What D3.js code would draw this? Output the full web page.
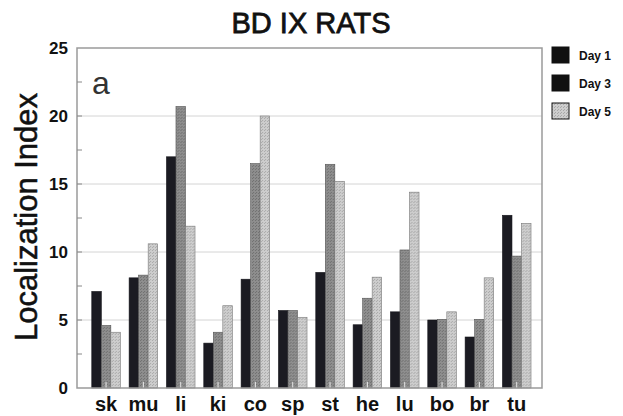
<!DOCTYPE html>
<html>
<head>
<meta charset="utf-8">
<script src="https://cdn.jsdelivr.net/npm/d3@7/dist/d3.min.js"></script>
<style>
  body { margin: 0; background: #fff; }
  svg { display: block; font-family: "Liberation Sans", Arial, sans-serif; }
</style>
</head>
<body>
<svg id="chart" width="623" height="416"></svg>
<script>
// data
var organs = ["sk", "mu", "li", "ki", "co", "sp", "st", "he", "lu", "bo", "br", "tu"];
var days = ["Day 1", "Day 3", "Day 5"];
var day1 = [7.1, 8.1, 17.0, 3.3, 8.0, 5.7, 8.5, 4.65, 5.6, 5.0, 3.75, 12.7];
var day3 = [4.6, 8.3, 20.7, 4.1, 16.5, 5.7, 16.45, 6.6, 10.15, 5.05, 5.05, 9.7];
var day5 = [4.1, 10.6, 11.9, 6.05, 20.0, 5.2, 15.2, 8.15, 14.4, 5.6, 8.1, 12.1];
var yTicks = [0, 5, 10, 15, 20, 25];

var series = [day1, day3, day5];

var svg = d3.select("#chart");
var pLeft = 77, pRight = 542, pTop = 48, pBottom = 388;

var defs = svg.append("defs");
// stippled fills like the printed greys
function stipple(id, base, dot) {
  var p = defs.append("pattern").attr("id", id)
    .attr("width", 3).attr("height", 3).attr("patternUnits", "userSpaceOnUse");
  p.append("rect").attr("width", 3).attr("height", 3).attr("fill", base);
  p.append("rect").attr("x", 0).attr("y", 0).attr("width", 1).attr("height", 1).attr("fill", dot);
  p.append("rect").attr("x", 2).attr("y", 1).attr("width", 1).attr("height", 1).attr("fill", dot);
}
stipple("pat3", "#8e8e8e", "#6e6e6e");
stipple("pat5", "#cdcdcd", "#a8a8a8");
var fills = ["#1b1b22", "url(#pat3)", "url(#pat5)"];
var strokes = ["#15151a", "#555", "#777"];

var y = d3.scaleLinear().domain([0, 25]).range([pBottom, pTop]);
var x = d3.scaleBand().domain(organs).range([87.4, 535.4])
  .paddingInner(0.235).paddingOuter(0.1175);
var xi = d3.scaleBand().domain(days).range([0, x.bandwidth()]);

// grid lines
svg.append("g").selectAll("line").data([5, 10, 15, 20]).enter().append("line")
  .attr("x1", pLeft).attr("x2", pRight)
  .attr("y1", function(d) { return y(d); }).attr("y2", function(d) { return y(d); })
  .attr("stroke", "#d4d4d4").attr("stroke-width", 1);

// bars
var groups = svg.append("g").selectAll("g").data(organs).enter().append("g")
  .attr("transform", function(d) { return "translate(" + x(d) + ",0)"; });

groups.selectAll("rect").data(function(d, i) {
    return series.map(function(s, k) { return { day: days[k], k: k, v: s[i] }; });
  }).enter().append("rect")
  .attr("x", function(d) { return xi(d.day); })
  .attr("width", xi.bandwidth())
  .attr("y", function(d) { return y(d.v); })
  .attr("height", function(d) { return y(0) - y(d.v); })
  .attr("fill", function(d) { return fills[d.k]; })
  .attr("stroke", function(d) { return strokes[d.k]; })
  .attr("stroke-width", 0.6);

// small marks at group centres on the baseline
svg.append("g").selectAll("line").data(organs).enter().append("line")
  .attr("x1", function(d) { return x(d) + x.bandwidth() / 2; })
  .attr("x2", function(d) { return x(d) + x.bandwidth() / 2; })
  .attr("y1", pBottom).attr("y2", pBottom - 6)
  .attr("stroke", "#e8e8e8").attr("stroke-width", 1);

// frame
svg.append("rect").attr("x", pLeft).attr("y", pTop)
  .attr("width", pRight - pLeft).attr("height", pBottom - pTop)
  .attr("fill", "none").attr("stroke", "#9a9a9a").attr("stroke-width", 1.5);

// y axis
var yAxis = d3.axisLeft(y).tickValues(yTicks).tickSize(0).tickPadding(8);
var ga = svg.append("g").attr("transform", "translate(" + pLeft + ",0)").call(yAxis);
ga.select(".domain").remove();
ga.selectAll("text").attr("font-size", 17).attr("font-weight", "bold")
  .attr("fill", "#111").attr("font-family", "Liberation Sans, Arial, sans-serif")
  .attr("dx", -1);

// minor ticks inside the frame
svg.append("g").selectAll("line").data(d3.range(2.5, 25, 2.5)).enter().append("line")
  .attr("x1", pLeft).attr("x2", pLeft + 5)
  .attr("y1", function(d) { return y(d); }).attr("y2", function(d) { return y(d); })
  .attr("stroke", "#888").attr("stroke-width", 1);

// x labels
svg.append("g").selectAll("text").data(organs).enter().append("text")
  .attr("x", function(d) { return x(d) + x.bandwidth() / 2; })
  .attr("y", 411)
  .attr("text-anchor", "middle")
  .attr("font-size", 20).attr("font-weight", "bold").attr("fill", "#111")
  .text(function(d) { return d; });

// title
svg.append("text").attr("x", 311).attr("y", 33).attr("text-anchor", "middle")
  .attr("font-size", 29).attr("fill", "#111")
  .attr("stroke", "#111").attr("stroke-width", 0.8)
  .text("BD IX RATS");

// y label
svg.append("text").attr("transform", "translate(37,217) rotate(-90)")
  .attr("text-anchor", "middle").attr("font-size", 31).attr("fill", "#111")
  .attr("stroke", "#111").attr("stroke-width", 0.5)
  .text("Localization Index");

// panel letter
svg.append("text").attr("x", 92).attr("y", 94).attr("font-size", 32)
  .attr("fill", "#333").text("a");

// legend (as printed, Day 3 swatch is black)
var legFills = ["#111", "#111", "url(#pat5)"];
var leg = svg.append("g").selectAll("g").data(days).enter().append("g")
  .attr("transform", function(d, i) { return "translate(552," + (47 + i * 28) + ")"; });
leg.append("rect").attr("width", 17).attr("height", 16)
  .attr("fill", function(d, i) { return legFills[i]; })
  .attr("stroke", "#111").attr("stroke-width", 1);
leg.append("text").attr("x", 27).attr("y", 12.5)
  .attr("font-size", 12).attr("font-weight", "bold").attr("fill", "#111")
  .text(function(d) { return d; });
</script>
</body>
</html>
